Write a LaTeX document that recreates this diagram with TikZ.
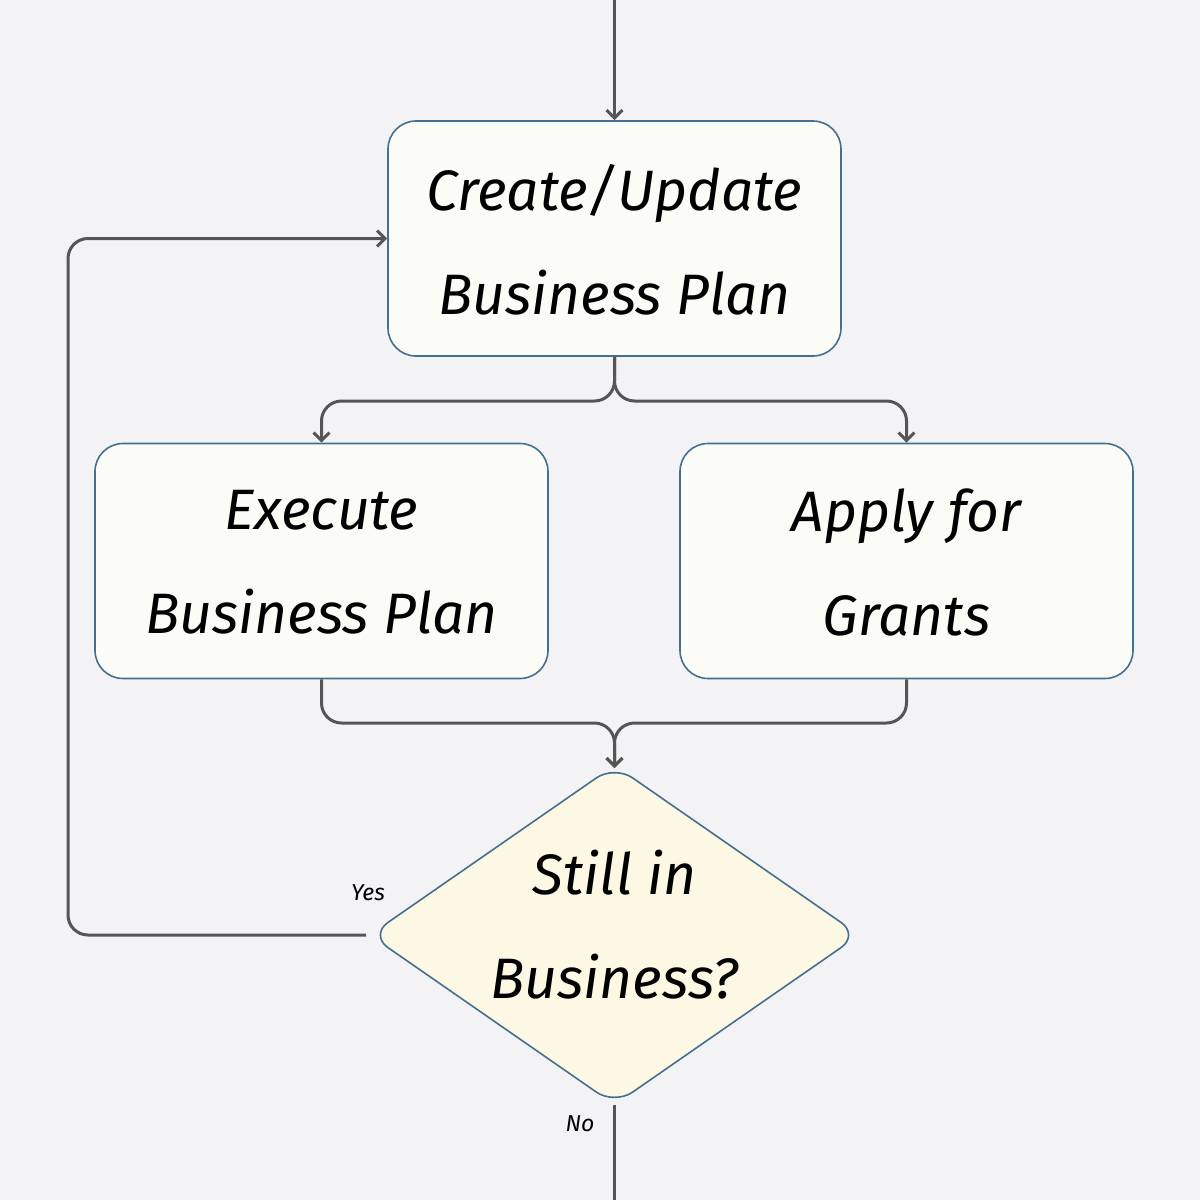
\documentclass[tikz,border=0pt]{standalone}
\usepackage{fontspec}
\setmainfont{Fira Sans}
\usetikzlibrary{arrows.meta,shapes.geometric}
\definecolor{bg}{HTML}{F3F3F6}
\definecolor{boxfill}{HTML}{FCFCF7}
\definecolor{diafill}{HTML}{FCF8E3}
\definecolor{edge}{HTML}{44708F}
\definecolor{conn}{HTML}{555555}
\tikzset{
  procbox/.style={draw=edge, fill=boxfill, line width=1.6pt, rounded corners=28pt,
    minimum width=453pt, minimum height=235pt, inner sep=0pt},
  decbox/.style={draw=edge, fill=diafill, line width=1.6pt, diamond, rounded corners=22pt,
    minimum width=490pt, minimum height=340pt, inner sep=0pt, aspect=1.45},
  bigtext/.style={align=center, font=\fontsize{57}{104}\selectfont\itshape},
  smalltext/.style={font=\fontsize{23}{26}\selectfont\itshape},
  conline/.style={draw=conn, line width=3pt, rounded corners=20pt},
  arr/.style={conline, -{Straight Barb[length=8pt,width=16pt,line width=3pt]}}
}
\begin{document}
\begin{tikzpicture}[x=1pt,y=-1pt]
\fill[bg] (0,0) rectangle (1200,1200);
\useasboundingbox (0,0) rectangle (1200,1200);

\node[procbox] (cu) at (614.5,238.5) {};
\node[bigtext] (cut) at (614.5,240) {Create/Update\\Business Plan};
\node[procbox] (ex) at (321.5,561) {};
\node[bigtext] (ext) at (321.5,562) {Execute\\Business Plan};
\node[procbox] (ap) at (906.5,561) {};
\node[bigtext] (apt) at (906.5,562) {Apply for\\Grants};
\node[decbox] (dia) at (614.5,935) {};
\node[bigtext] (diat) at (614.5,925) {Still in\\Business?};

\coordinate (top) at (614.5,0);
\coordinate (split) at (614.5,401);
\coordinate (join) at (614.5,723);
\coordinate (yes) at (366,935);
\coordinate (loop) at (68,238.5);
\coordinate (nostart) at (614.5,1105);
\coordinate (noend) at (614.5,1200);

\draw[arr] (top) -- (cu.north);
\draw[arr] (cu.south) -- (split) -| (ex.north);
\draw[arr] (cu.south) -- (split) -| (ap.north);
\draw[arr] (ex.south) |- (join) -- ([yshift=-4pt]dia.north);
\draw[arr] (ap.south) |- (join) -- ([yshift=-4pt]dia.north);
\draw[arr] (yes) -| (loop) -- (cu.west);
\draw[conline] (nostart) -- (noend);

\node[smalltext] (yeslbl) at (368,893) {Yes};
\node[smalltext] (nolbl) at (580,1124) {No};
\end{tikzpicture}
\end{document}
